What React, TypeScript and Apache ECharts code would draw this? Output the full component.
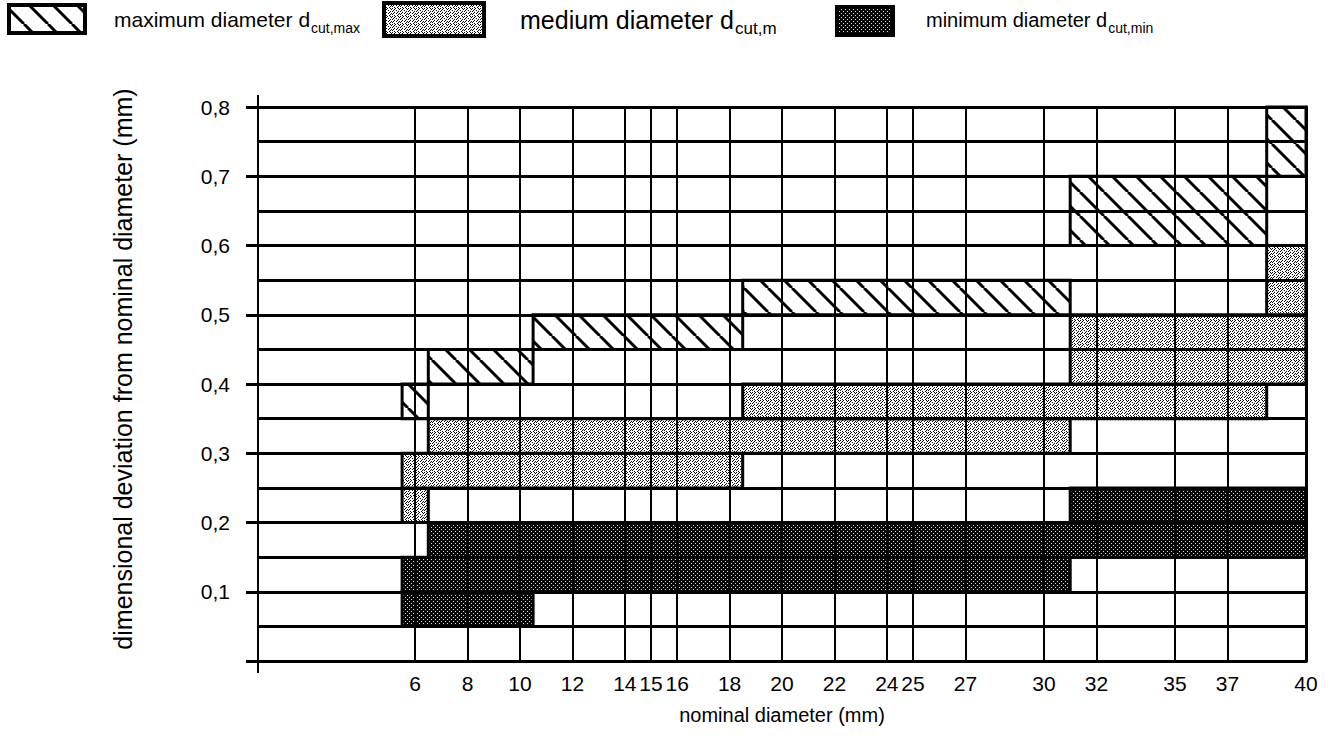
import React, { useEffect, useRef } from 'react';
import * as echarts from 'echarts';

// x positions (nominal diameter, mm) that carry a tick label and a vertical grid line
const xTickValues = [6, 8, 10, 12, 14, 15, 16, 18, 20, 22, 24, 25, 27, 30, 32, 35, 37, 40];
const xMin = 0;
const xMax = 40;
const yMin = 0;
const yMax = 0.8;
const yInterval = 0.1;

// bands: [from diameter, to diameter, lower deviation, upper deviation]
const maxDiameterBands = [
  [5.5, 6.5, 0.35, 0.4],
  [6.5, 10.5, 0.4, 0.45],
  [10.5, 18.5, 0.45, 0.5],
  [18.5, 31, 0.5, 0.55],
  [31, 38.5, 0.6, 0.7],
  [38.5, 40, 0.7, 0.8],
];
const mediumDiameterBands = [
  [5.5, 6.5, 0.2, 0.25],
  [5.5, 18.5, 0.25, 0.3],
  [6.5, 31, 0.3, 0.35],
  [18.5, 38.5, 0.35, 0.4],
  [31, 40, 0.4, 0.5],
  [38.5, 40, 0.5, 0.6],
];
const minDiameterBands = [
  [5.5, 10.5, 0.05, 0.1],
  [5.5, 31, 0.1, 0.15],
  [6.5, 40, 0.15, 0.2],
  [31, 40, 0.2, 0.25],
];

const FONT = '"Liberation Sans", Arial, Helvetica, sans-serif';

function makeCanvas(w: number, h: number, draw: (ctx: CanvasRenderingContext2D) => void) {
  const c = document.createElement('canvas');
  c.width = w;
  c.height = h;
  const ctx = c.getContext('2d') as CanvasRenderingContext2D;
  draw(ctx);
  return c;
}

function bitmapPattern(rows: string[], on: string, off: string) {
  const h = rows.length;
  const w = rows[0].length;
  return makeCanvas(w, h, (ctx) => {
    ctx.fillStyle = off;
    ctx.fillRect(0, 0, w, h);
    ctx.fillStyle = on;
    for (let y = 0; y < h; y++) {
      for (let x = 0; x < w; x++) {
        if (rows[y][x] === '1') ctx.fillRect(x, y, 1, 1);
      }
    }
  });
}

function measure(text: string, font: string) {
  const c = document.createElement('canvas');
  const ctx = c.getContext('2d') as CanvasRenderingContext2D;
  ctx.font = font;
  return ctx.measureText(text).width;
}

export default function App() {
  const ref = useRef<HTMLDivElement>(null);

  useEffect(() => {
    if (!ref.current) return;
    const chart = echarts.init(ref.current, null, { renderer: 'svg' });

    const S = 24;
    const hatchCanvas = makeCanvas(S, S, (ctx) => {
      ctx.fillStyle = '#ffffff';
      ctx.fillRect(0, 0, S, S);
      ctx.strokeStyle = '#000000';
      ctx.lineWidth = 3;
      ctx.beginPath();
      for (const k of [-1, 0, 1]) {
        ctx.moveTo(k * S, 0);
        ctx.lineTo(k * S + S, S);
      }
      ctx.stroke();
    });
    const mediumCanvas = bitmapPattern(
      [
        '10010010',
        '00100001',
        '01001000',
        '10000010',
        '00100100',
        '01001001',
        '10000010',
        '00100100',
      ],
      '#000000',
      '#ffffff'
    );
    const darkCanvas = bitmapPattern(
      [
        '00000000',
        '01000100',
        '00000000',
        '00010001',
        '00000000',
        '01000100',
        '00000000',
        '00010001',
      ],
      '#d8d8d8',
      '#080808'
    );
    const pat = (c: HTMLCanvasElement) => ({
      image: c,
      repeat: 'repeat',
      imageWidth: c.width,
      imageHeight: c.height,
    });
    const hatchFill = pat(hatchCanvas);
    const mediumFill = pat(mediumCanvas);
    const darkFill = pat(darkCanvas);

    const bandSeries = (name: string, data: number[][], fill: any) => ({
      type: 'custom',
      name,
      silent: true,
      z: 2,
      data,
      encode: { x: [0, 1], y: [2, 3] },
      renderItem: (_params: any, api: any) => {
        const p0 = api.coord([api.value(0), api.value(3)]);
        const p1 = api.coord([api.value(1), api.value(2)]);
        return {
          type: 'rect',
          shape: { x: p0[0], y: p0[1], width: p1[0] - p0[0], height: p1[1] - p0[1] },
          style: { fill, stroke: '#000000', lineWidth: 3 },
        };
      },
    });

    // legend built with graphic elements (text top = baseline - 0.86 * size)
    const legendItems = [
      { box: [9, 5, 76, 28], fill: hatchFill, x: 114, base: 27, size: 21, subSize: 14, main: 'maximum diameter d', sub: 'cut,max' },
      { box: [384, 3, 100, 33], fill: mediumFill, x: 520, base: 28, size: 25, subSize: 17, main: 'medium diameter d', sub: 'cut,m' },
      { box: [837, 7, 56, 28], fill: darkFill, x: 926, base: 27, size: 20, subSize: 14, main: 'minimum diameter d', sub: 'cut,min' },
    ];
    const graphic: any[] = [];
    legendItems.forEach((it) => {
      graphic.push({
        type: 'rect',
        shape: { x: it.box[0], y: it.box[1], width: it.box[2], height: it.box[3] },
        style: { fill: it.fill, stroke: '#000000', lineWidth: 4 },
        silent: true,
      });
      const mainFont = `${it.size}px ${FONT}`;
      const w = measure(it.main, mainFont);
      graphic.push({
        type: 'text',
        x: it.x,
        y: Math.round(it.base - 0.86 * it.size),
        style: { text: it.main, font: mainFont, fill: '#000000', verticalAlign: 'top' },
        silent: true,
      });
      const subBase = it.base + Math.round(it.size * 0.28);
      graphic.push({
        type: 'text',
        x: it.x + w + 1,
        y: Math.round(subBase - 0.86 * it.subSize),
        style: { text: it.sub, font: `${it.subSize}px ${FONT}`, fill: '#000000', verticalAlign: 'top' },
        silent: true,
      });
    });
    // y axis line overshoot above and below the plot
    graphic.push({
      type: 'line',
      shape: { x1: 258, y1: 95, x2: 258, y2: 673 },
      style: { stroke: '#000000', lineWidth: 2 },
      silent: true,
      z: 10,
    });

    chart.setOption({
      animation: false,
      backgroundColor: '#ffffff',
      textStyle: { fontFamily: FONT },
      grid: { left: 258, right: 30, top: 107, bottom: 77, outerBoundsMode: 'none', containLabel: false },
      xAxis: {
        type: 'value',
        min: xMin,
        max: xMax,
        z: 5,
        name: 'nominal diameter (mm)',
        nameLocation: 'middle',
        nameGap: 44,
        nameTextStyle: { fontSize: 20, color: '#000000', fontFamily: FONT },
        axisLine: { show: true, lineStyle: { color: '#000000', width: 3 } },
        axisTick: { show: false, customValues: xTickValues },
        axisLabel: {
          customValues: xTickValues,
          fontSize: 21,
          color: '#000000',
          margin: 12,
          fontFamily: FONT,
        },
        splitLine: { show: true, lineStyle: { color: '#000000', width: 2 } },
      },
      yAxis: [
        {
          type: 'value',
          min: yMin,
          max: yMax,
          interval: yInterval,
          z: 5,
          name: 'dimensional deviation from nominal diameter (mm)',
          nameLocation: 'middle',
          nameGap: 123,
          nameTextStyle: { fontSize: 25, color: '#000000', fontFamily: FONT, padding: [0, 0, 0, 30] },
          axisLine: { show: false },
          axisTick: { show: true, length: 12, lineStyle: { color: '#000000', width: 3 } },
          axisLabel: {
            fontSize: 21,
            color: '#000000',
            margin: 28,
            fontFamily: FONT,
            formatter: (v: number) => (v === 0 ? '' : v.toFixed(1).replace('.', ',')),
          },
          splitLine: { show: true, lineStyle: { color: '#000000', width: 3 } },
          minorTick: { show: false, splitNumber: 2 },
          minorSplitLine: { show: true, lineStyle: { color: '#000000', width: 3 } },
        },
        {
          type: 'value',
          min: yMin,
          max: yMax,
          interval: yInterval,
          position: 'right',
          z: 5,
          axisLine: { show: true, lineStyle: { color: '#000000', width: 3 } },
          axisTick: { show: false },
          axisLabel: { show: false },
          splitLine: { show: false },
        },
      ],
      graphic,
      series: [
        bandSeries('maximum diameter', maxDiameterBands, hatchFill),
        bandSeries('medium diameter', mediumDiameterBands, mediumFill),
        bandSeries('minimum diameter', minDiameterBands, darkFill),
      ],
    } as any);

    return () => {
      chart.dispose();
    };
  }, []);

  return (
    <div
      ref={ref}
      style={{ position: 'absolute', left: 0, top: 0, width: 1336, height: 738, background: '#ffffff' }}
    />
  );
}
